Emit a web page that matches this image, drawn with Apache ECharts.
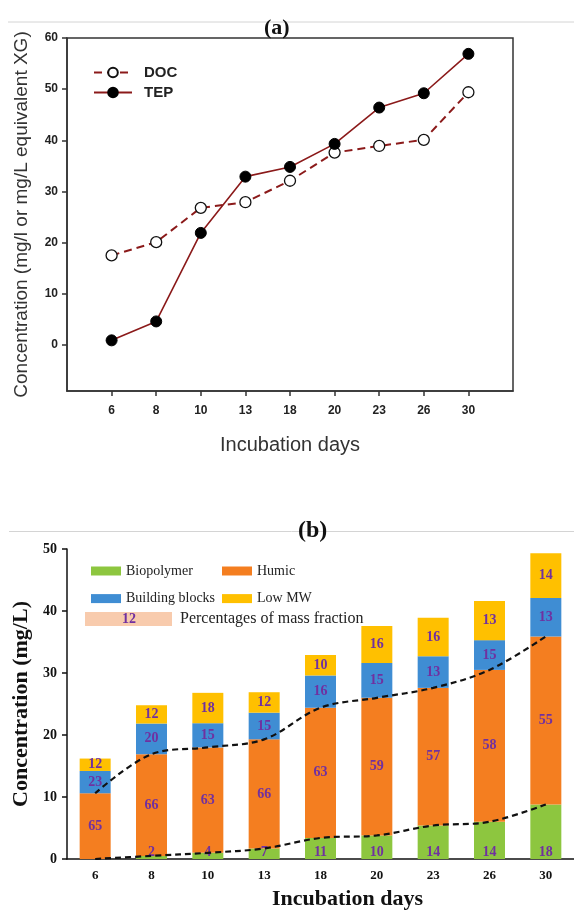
<!DOCTYPE html>
<html>
<head>
<meta charset="utf-8">
<script src="https://cdn.jsdelivr.net/npm/echarts@6/dist/echarts.min.js"></script>
<style>
html,body{margin:0;padding:0;background:#fff;}
#main{width:574px;height:911px;}
</style>
</head>
<body>
<div id="main"></div>
<script>
// ---------- Data (a) ----------
const days = [6, 8, 10, 13, 18, 20, 23, 26, 30];
const dayLabels = days.map(String);
const docValues = [17.5, 20.1, 26.8, 27.9, 32.1, 37.6, 38.9, 40.1, 49.4];
const tepValues = [0.9, 4.6, 21.9, 32.9, 34.8, 39.3, 46.4, 49.2, 56.9];
const yTicksA = [0, 10, 20, 30, 40, 50, 60];

// ---------- Data (b) ----------
const biopolymer     = [0.0, 0.5, 1.0, 1.7, 3.4, 3.8, 5.4, 6.0, 8.8];
const humic          = [10.6, 16.4, 17.0, 17.6, 21.0, 22.2, 22.2, 24.5, 27.1];
const buildingBlocks = [3.6, 4.95, 3.9, 4.3, 5.2, 5.6, 5.1, 4.8, 6.2];
const lowMW          = [2.0, 2.95, 4.9, 3.3, 3.3, 6.0, 6.2, 6.3, 7.2];

const bioPct   = [null, 2, 4, 7, 11, 10, 14, 14, 18];
const humicPct = [65, 66, 63, 66, 63, 59, 57, 58, 55];
const bbPct    = [23, 20, 15, 15, 16, 15, 13, 15, 13];
const lmwPct   = [12, 12, 18, 12, 10, 16, 16, 13, 14];

// derived cumulative (for the dashed guide lines)
const bioTop = biopolymer.slice();
const humicTop = biopolymer.map((v, i) => +(v + humic[i]).toFixed(2));

const padCats = [''].concat(dayLabels, [' ']);

const SANS = 'Liberation Sans';
const SERIF = 'Liberation Serif';
const PURPLE = '#7030A0';

function pctLabel(arr, extra) {
  return Object.assign({
    show: true,
    position: 'inside',
    fontFamily: SERIF,
    fontWeight: 'bold',
    fontSize: 14,
    color: PURPLE,
    formatter: p => (arr[p.dataIndex] == null ? '' : String(arr[p.dataIndex]))
  }, extra || {});
}

const chart = echarts.init(document.getElementById('main'));
const option = {
  animation: false,
  backgroundColor: '#fff',
  title: [
    { text: '(a)', left: 259, top: 12,
      textStyle: { fontFamily: SERIF, fontWeight: 'bold', fontSize: 22, color: '#111' } },
    { text: '(b)', left: 293, top: 514,
      textStyle: { fontFamily: SERIF, fontWeight: 'bold', fontSize: 24, color: '#111' } }
  ],
  legend: [
    { data: ['DOC', 'TEP'], orient: 'vertical', left: 88, top: 60,
      itemWidth: 38, itemHeight: 12, itemGap: 5,
      textStyle: { fontFamily: SANS, fontWeight: 'bold', fontSize: 15, color: '#222', padding: [0, 0, 0, 7] } },
    { data: ['Biopolymer', 'Building blocks'], orient: 'vertical', left: 86, top: 559,
      icon: 'rect', itemWidth: 30, itemHeight: 9, itemGap: 13.6,
      textStyle: { fontFamily: SERIF, fontSize: 14, color: '#222', lineHeight: 14 } },
    { data: ['Humic', 'Low MW'], orient: 'vertical', left: 217, top: 559,
      icon: 'rect', itemWidth: 30, itemHeight: 9, itemGap: 13.6,
      textStyle: { fontFamily: SERIF, fontSize: 14, color: '#222', lineHeight: 14 } }
  ],
  grid: [
    { left: 67, right: 61, top: 38, bottom: 520, show: true, borderColor: '#333', borderWidth: 1.5,
      backgroundColor: 'transparent' },
    { left: 67, right: -7, top: 549, bottom: 52 }
  ],
  xAxis: [
    { gridIndex: 0, type: 'category', data: padCats, boundaryGap: false,
      axisLine: { onZero: false, lineStyle: { color: '#333', width: 1.5 } },
      axisTick: { interval: (i) => i > 0 && i < padCats.length - 1, length: 5,
        lineStyle: { color: '#333', width: 1.5 } },
      axisLabel: { interval: 0, margin: 14, fontFamily: SANS, fontWeight: 'bold', fontSize: 12, color: '#222' },
      splitLine: { show: false },
      name: 'Incubation days', nameLocation: 'middle', nameGap: 44,
      nameTextStyle: { fontFamily: SANS, fontSize: 20, color: '#333' } },
    { gridIndex: 1, type: 'category', data: dayLabels, boundaryGap: true,
      axisLine: { onZero: false, lineStyle: { color: '#111', width: 1.5 } },
      axisTick: { length: 5, lineStyle: { color: '#111', width: 1.5 } },
      axisLabel: { interval: 0, margin: 10, fontFamily: SERIF, fontWeight: 'bold', fontSize: 13, color: '#111' },
      splitLine: { show: false },
      name: 'Incubation days', nameLocation: 'middle', nameGap: 29,
      nameTextStyle: { fontFamily: SERIF, fontWeight: 'bold', fontSize: 22, color: '#111', padding: [0, 0, 0, 54] } }
  ],
  yAxis: [
    { gridIndex: 0, type: 'value', min: -9, max: 60,
      axisLine: { show: true, onZero: false, lineStyle: { color: '#333', width: 1.5 } },
      axisTick: { show: true, length: 5, customValues: yTicksA, lineStyle: { color: '#333', width: 1.5 } },
      axisLabel: { customValues: yTicksA, margin: 9, fontFamily: SANS, fontWeight: 'bold', fontSize: 12, color: '#222' },
      splitLine: { show: false },
      name: 'Concentration (mg/l or mg/L equivalent XG)', nameLocation: 'middle', nameGap: 36,
      nameTextStyle: { fontFamily: SANS, fontSize: 19, color: '#333' } },
    { gridIndex: 1, type: 'value', min: 0, max: 50, interval: 10,
      axisLine: { show: true, lineStyle: { color: '#111', width: 1.5 } },
      axisTick: { show: true, length: 5, lineStyle: { color: '#111', width: 1.5 } },
      axisLabel: { margin: 10, fontFamily: SERIF, fontWeight: 'bold', fontSize: 14, color: '#111' },
      splitLine: { show: false },
      name: 'Concentration (mg/L)', nameLocation: 'middle', nameGap: 30,
      nameTextStyle: { fontFamily: SERIF, fontWeight: 'bold', fontSize: 22, color: '#111' } }
  ],
  series: [
    { name: 'DOC', type: 'line', xAxisIndex: 0, yAxisIndex: 0,
      data: dayLabels.map((d, i) => [d, docValues[i]]),
      symbol: 'circle', symbolSize: 11,
      itemStyle: { color: '#fff', borderColor: '#111', borderWidth: 1.3 },
      lineStyle: { color: '#8B1A1A', width: 2, type: [8, 5] }, z: 3 },
    { name: 'TEP', type: 'line', xAxisIndex: 0, yAxisIndex: 0,
      data: dayLabels.map((d, i) => [d, tepValues[i]]),
      symbol: 'circle', symbolSize: 11,
      itemStyle: { color: '#000', borderColor: '#000', borderWidth: 1 },
      lineStyle: { color: '#8B1A1A', width: 1.6 }, z: 4 },

    { name: 'Biopolymer', type: 'bar', xAxisIndex: 1, yAxisIndex: 1, stack: 'frac', barWidth: 31,
      data: biopolymer, itemStyle: { color: '#8DC63F' },
      label: pctLabel(bioPct, { position: 'insideBottom', distance: 0 }) },
    { name: 'Humic', type: 'bar', xAxisIndex: 1, yAxisIndex: 1, stack: 'frac', barWidth: 31,
      data: humic, itemStyle: { color: '#F47E20' },
      label: pctLabel(humicPct) },
    { name: 'Building blocks', type: 'bar', xAxisIndex: 1, yAxisIndex: 1, stack: 'frac', barWidth: 31,
      data: buildingBlocks, itemStyle: { color: '#3F8DD3' },
      label: pctLabel(bbPct) },
    { name: 'Low MW', type: 'bar', xAxisIndex: 1, yAxisIndex: 1, stack: 'frac', barWidth: 31,
      data: lowMW, itemStyle: { color: '#FFC000' },
      label: pctLabel(lmwPct) },

    { name: 'bioTrend', type: 'line', xAxisIndex: 1, yAxisIndex: 1, data: bioTop,
      smooth: 0.35, symbol: 'none', silent: true, z: 6,
      lineStyle: { color: '#111', width: 2.2, type: [6, 4] } },
    { name: 'humicTrend', type: 'line', xAxisIndex: 1, yAxisIndex: 1, data: humicTop,
      smooth: 0.35, symbol: 'none', silent: true, z: 6,
      lineStyle: { color: '#111', width: 2.2, type: [6, 4] } }
  ],
  graphic: [
    { type: 'line', shape: { x1: 8, y1: 22, x2: 574, y2: 22 }, style: { stroke: '#d4d4d4', lineWidth: 1 }, z: -1 },
    { type: 'line', shape: { x1: 9, y1: 531.5, x2: 574, y2: 531.5 }, style: { stroke: '#d4d4d4', lineWidth: 1 }, z: -1 },
    { type: 'rect', shape: { x: 85, y: 612, width: 87, height: 14 }, style: { fill: '#F8CBAD' } },
    { type: 'text', x: 129, y: 619, style: { text: '12', fill: PURPLE, font: 'bold 14px "Liberation Serif"',
      textAlign: 'center', textVerticalAlign: 'middle' } },
    { type: 'text', x: 180, y: 619, style: { text: 'Percentages of mass fraction', fill: '#222',
      font: '16px "Liberation Serif"', textAlign: 'left', textVerticalAlign: 'middle' } }
  ]
};
chart.setOption(option);
</script>
</body>
</html>
